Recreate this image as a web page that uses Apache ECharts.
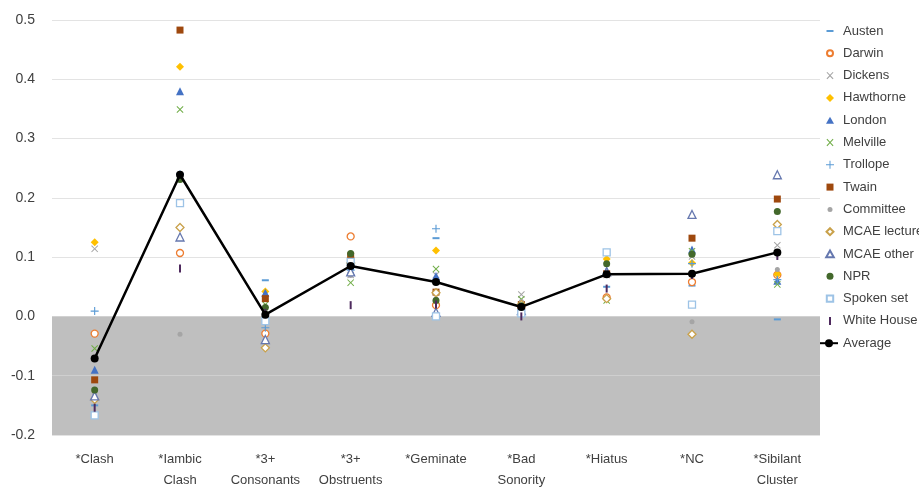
<!DOCTYPE html>
<html>
<head>
<meta charset="utf-8">
<script src="https://cdn.jsdelivr.net/npm/echarts@6/dist/echarts.min.js"></script>
<style>
  html, body { margin: 0; padding: 0; background: #fff; }
  #chart { width: 919px; height: 487px; }
</style>
</head>
<body>
<div id="chart"></div>
<script>
// Phonological constraint scores per corpus
const categories = ['*Clash', '*Iambic\nClash', '*3+\nConsonants', '*3+\nObstruents', '*Geminate', '*Bad\nSonority', '*Hiatus', '*NC', '*Sibilant\nCluster'];
const yTicks = [-0.2, -0.1, 0.0, 0.1, 0.2, 0.3, 0.4, 0.5];

const austen      = [-0.150, 0.240,  0.061, 0.080, 0.132, 0.010, 0.050,  0.052, -0.005];
const darwin      = [-0.029, 0.107, -0.029, 0.135, 0.019, 0.015, 0.032,  0.058,  0.070];
const dickens     = [ 0.114, 0.235,  0.010, 0.070, 0.070, 0.037, 0.070,  0.101,  0.120];
const hawthorne   = [ 0.125, 0.421,  0.042, 0.100, 0.111, 0.020, 0.097,  0.090,  0.071];
const london      = [-0.090, 0.380,  0.040, 0.076, 0.068, 0.015, 0.078,  0.113,  0.060];
const melville    = [-0.054, 0.349,  0.020, 0.057, 0.080, 0.029, 0.027,  0.110,  0.054];
const trollope    = [ 0.009, 0.240, -0.019, 0.078, 0.148, 0.012, 0.072,  0.089,  0.062];
const twain       = [-0.107, 0.483,  0.030, 0.102, 0.041, 0.020, 0.072,  0.132,  0.198];
const committee   = [-0.130, -0.030, 0.000, 0.069, 0.030, 0.025, 0.070, -0.009,  0.079];
const mcaeLecture = [-0.140, 0.150, -0.053, 0.090, 0.040, 0.020, 0.030, -0.030,  0.155];
const mcaeOther   = [-0.134, 0.134, -0.039, 0.075, 0.007, 0.010, 0.075,  0.172,  0.239];
const npr         = [-0.124, 0.231,  0.015, 0.106, 0.027, 0.018, 0.089,  0.105,  0.177];
const spokenSet   = [-0.167, 0.191, -0.008, 0.092, 0.000, 0.005, 0.108,  0.020,  0.144];
const whiteHouse  = [-0.154, 0.081,  0.006, 0.019, 0.020, 0.000, 0.047,  0.070,  0.102];
const average     = [-0.071, 0.239,  0.003, 0.085, 0.058, 0.016, 0.071,  0.072,  0.108];

const X_PATH = 'path://M0,1 L1,0 L5,4 L9,0 L10,1 L6,5 L10,9 L9,10 L5,6 L1,10 L0,9 L4,5 Z';
const PLUS_PATH = 'path://M4.3,0 H5.7 V4.3 H10 V5.7 H5.7 V10 H4.3 V5.7 H0 V4.3 H4.3 Z';

// Legend icons: drawn in an 18x10 box (padded by the leading moves) so each
// marker keeps its own small size instead of stretching to the box.
const BOX = 'path://M0,0 M18,10 ';
const legendIcons = {
  'Austen':       BOX + 'M6.5,4 H13.5 V6 H6.5 Z',
  'Darwin':       BOX + 'M13,5 A3,3 0 1,1 7,5 A3,3 0 1,1 13,5 Z',
  'Dickens':      BOX + 'M6.5,2 L7.3,1.3 L10,4.2 L12.7,1.3 L13.5,2 L10.7,5 L13.5,8 L12.7,8.7 L10,5.8 L7.3,8.7 L6.5,8 L9.3,5 Z',
  'Hawthorne':    BOX + 'M10,1 L14,5 L10,9 L6,5 Z',
  'London':       BOX + 'M10,1.5 L14,8.5 L6,8.5 Z',
  'Melville':     BOX + 'M6.5,2 L7.3,1.3 L10,4.2 L12.7,1.3 L13.5,2 L10.7,5 L13.5,8 L12.7,8.7 L10,5.8 L7.3,8.7 L6.5,8 L9.3,5 Z',
  'Trollope':     BOX + 'M9.5,1 H10.5 V4.5 H14 V5.5 H10.5 V9 H9.5 V5.5 H6 V4.5 H9.5 Z',
  'Twain':        BOX + 'M6.5,1.5 H13.5 V8.5 H6.5 Z',
  'Committee':    BOX + 'M12.5,5 A2.5,2.5 0 1,1 7.5,5 A2.5,2.5 0 1,1 12.5,5 Z',
  'MCAE lecture': BOX + 'M10,1.5 L13.5,5 L10,8.5 L6.5,5 Z',
  'MCAE other':   BOX + 'M10,1.5 L13.8,8.3 L6.2,8.3 Z',
  'NPR':          BOX + 'M13.5,5 A3.5,3.5 0 1,1 6.5,5 A3.5,3.5 0 1,1 13.5,5 Z',
  'Spoken set':   BOX + 'M6.8,1.8 H13.2 V8.2 H6.8 Z',
  'White House':  BOX + 'M9,1 H11 V9 H9 Z'
};

function filled(name, data, symbol, size, color) {
  return {
    name, type: 'scatter', data, symbol, symbolSize: size, z: 3,
    itemStyle: { color, opacity: 1 }
  };
}
function hollow(name, data, symbol, size, color) {
  return {
    name, type: 'scatter', data, symbol, symbolSize: size, z: 3,
    itemStyle: { color: '#ffffff', borderColor: color, borderWidth: 1.3, opacity: 1 }
  };
}

const series = [
  {
    name: '__zone', type: 'scatter', data: [], z: 1, silent: true,
    markArea: {
      silent: true,
      itemStyle: { color: '#BFBFBF' },
      data: [[{ yAxis: -0.2 }, { yAxis: 0 }]]
    },
    markLine: {
      silent: true, symbol: 'none', label: { show: false },
      lineStyle: { color: '#CFCFCF', width: 1, type: 'solid' },
      data: [{ yAxis: -0.1 }]
    }
  },
  filled('Austen', austen, 'rect', [7, 2], '#5B9BD5'),
  hollow('Darwin', darwin, 'circle', 7, '#ED7D31'),
  filled('Dickens', dickens, X_PATH, 7, '#A5A5A5'),
  filled('Hawthorne', hawthorne, 'diamond', 8, '#FFC000'),
  filled('London', london, 'triangle', 8, '#4472C4'),
  filled('Melville', melville, X_PATH, 7, '#70AD47'),
  filled('Trollope', trollope, PLUS_PATH, 8, '#5B9BD5'),
  filled('Twain', twain, 'rect', 7, '#9E480E'),
  filled('Committee', committee, 'circle', 5, '#A5A5A5'),
  hollow('MCAE lecture', mcaeLecture, 'diamond', 8, '#C9A14A'),
  hollow('MCAE other', mcaeOther, 'triangle', 8, '#6678AF'),
  filled('NPR', npr, 'circle', 7, '#43682B'),
  hollow('Spoken set', spokenSet, 'rect', 7, '#9DC3E6'),
  filled('White House', whiteHouse, 'rect', [2, 8], '#4E2A5E'),
  {
    name: 'Average', type: 'line', data: average, z: 5,
    symbol: 'circle', symbolSize: 8,
    lineStyle: { color: '#000000', width: 2.5 },
    itemStyle: { color: '#000000' }
  }
];

const legendData = series
  .filter(s => s.name !== '__zone')
  .map(s => legendIcons[s.name] ? { name: s.name, icon: legendIcons[s.name] } : { name: s.name });

const chart = echarts.init(document.getElementById('chart'), null, { renderer: 'canvas' });
chart.setOption({
  animation: false,
  backgroundColor: '#ffffff',
  grid: { left: 52, right: 99, top: 20, bottom: 52, containLabel: false, outerBoundsMode: 'none' },
  xAxis: {
    type: 'category',
    data: categories,
    boundaryGap: true,
    axisLine: { show: false },
    axisTick: { show: false },
    axisLabel: {
      color: '#404040', fontSize: 13, margin: 14, lineHeight: 21, interval: 0,
      fontFamily: "'Liberation Sans', 'Open Sans', sans-serif"
    }
  },
  yAxis: {
    type: 'value',
    min: yTicks[0], max: yTicks[yTicks.length - 1], interval: 0.1,
    axisLine: { show: false },
    axisTick: { show: false },
    splitLine: { show: true, lineStyle: { color: '#E3E3E3', width: 1 } },
    axisLabel: {
      color: '#404040', fontSize: 14, margin: 17,
      fontFamily: "'Liberation Sans', 'Open Sans', sans-serif",
      formatter: v => v.toFixed(1)
    }
  },
  legend: {
    orient: 'vertical',
    left: 814, top: 19,
    itemWidth: 18, itemHeight: 10, itemGap: 8.3,
    symbolKeepAspect: false,
    data: legendData,
    textStyle: {
      color: '#404040', fontSize: 13, lineHeight: 14,
      fontFamily: "'Liberation Sans', 'Open Sans', sans-serif"
    }
  },
  series
});
</script>
</body>
</html>
